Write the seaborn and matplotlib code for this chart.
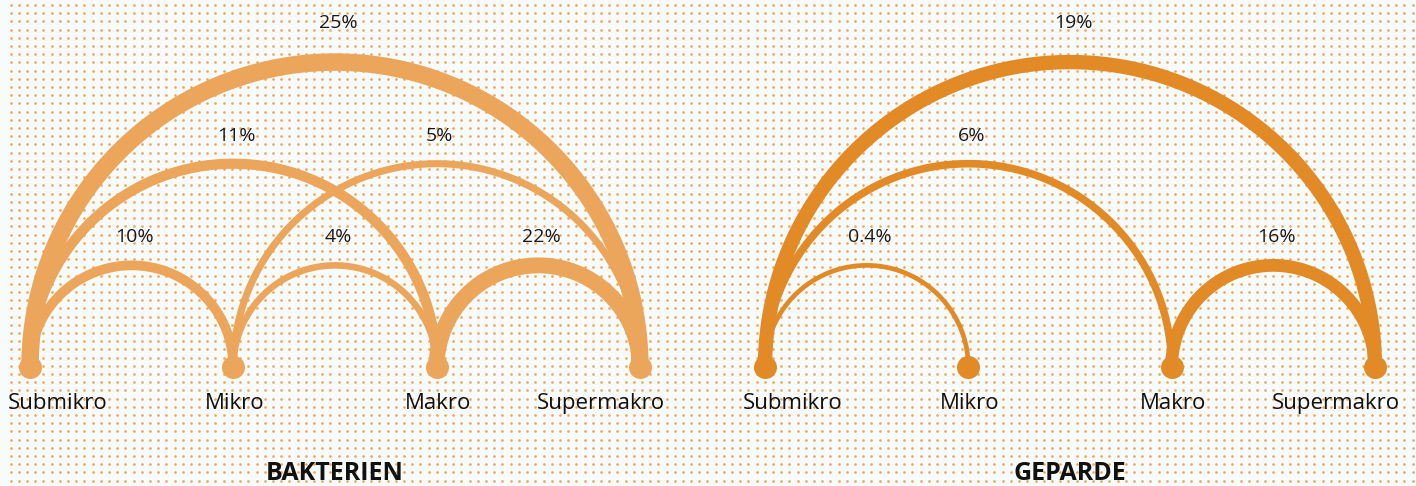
import numpy as np
import pandas as pd
import matplotlib
matplotlib.use('Agg')
import matplotlib.pyplot as plt
import seaborn as sns

# data
nodes = ["Submikro", "Mikro", "Makro", "Supermakro"]

bak_from = [0, 0, 1, 0, 1, 2]
bak_to = [3, 2, 3, 1, 2, 3]
bak_vals = [25, 11, 5, 10, 4, 22]
bak_labels = ["25%", "11%", "5%", "10%", "4%", "22%"]

gep_from = [0, 0, 0, 2]
gep_to = [3, 2, 1, 3]
gep_vals = [19, 6, 0.4, 16]
gep_labels = ["19%", "6%", "0.4%", "16%"]

titles = ["BAKTERIEN", "GEPARDE"]
colors = ["#ECA65B", "#E28A25"]

sns.set_theme(style="white")
plt.rcParams['font.family'] = ['Open Sans', 'DejaVu Sans']

W, H, DPI = 1416, 486, 100
fig = plt.figure(figsize=(W / DPI, H / DPI), dpi=DPI)
fig.patch.set_facecolor("#F8FBFC")

# dotted background
bg = fig.add_axes([0, 0, 1, 1])
bg.set_xlim(0, W)
bg.set_ylim(H, 0)
bg.axis("off")
gx, gy = np.meshgrid(np.arange(10.5, W, 8.2), np.arange(5, H, 8.2))
bg.scatter(gx.ravel(), gy.ravel(), s=3.6, marker="o", color="#EFA552",
           linewidths=0)

px = 72 / DPI  # points per pixel


def draw_panel(rect, xlim, src, dst, vals, labels, title, color):
    ax = fig.add_axes(rect)
    ax.set_xlim(*xlim)
    ax.set_ylim(-0.585, 1.805)
    ax.set_aspect("equal", adjustable="box")
    ax.axis("off")
    ax.patch.set_alpha(0)
    for i, j, v, lab in zip(src, dst, vals, labels):
        c = (i + j) / 2
        r = (j - i) / 2
        t = np.linspace(0, np.pi, 200)
        lw = (4.5 + 0.52 * v) * px
        ax.plot(c + r * np.cos(t), r * np.sin(t), color=color, lw=lw,
                solid_capstyle="butt", zorder=2)
        off = 28 + 22 * max(r - 1, 0)
        ax.annotate(lab, (c, r), xytext=(3 * px, off * px), textcoords="offset points",
                    ha="center", va="center", fontsize=14, color="#1a1a1a")
    df = pd.DataFrame({"x": range(len(nodes)), "y": 0.0})
    sns.scatterplot(data=df, x="x", y="y", s=(23 * px) ** 2, color=color,
                    linewidth=0, ax=ax, zorder=3)
    for k, name in enumerate(nodes):
        if k == 0:
            ha, dx = "left", -22
        elif k == len(nodes) - 1:
            ha, dx = "right", 25
        else:
            ha, dx = "center", 1
        ax.annotate(name, (k, 0), xytext=(dx * px, -36 * px), textcoords="offset points",
                    ha=ha, va="center", fontsize=16, color="#111111")
    ax.annotate(title, ((len(nodes) - 1) / 2, 0), xytext=(0, -106 * px),
                textcoords="offset points", ha="center", va="center",
                fontsize=18, fontweight="bold", color="#111111")
    ax.set_xlabel("")
    ax.set_ylabel("")


# left panel: node spacing 203.3 px, first node at 30 px
draw_panel([0, 0, 0.5, 1], (-30 / 203.3, 678 / 203.3), bak_from, bak_to, bak_vals,
           bak_labels, titles[0], colors[0])
# right panel: first node at 765 px
draw_panel([0.5, 0, 0.5, 1], (-57 / 203.3, 651 / 203.3), gep_from, gep_to, gep_vals,
           gep_labels, titles[1], colors[1])

fig.savefig("out.png", dpi=DPI, facecolor=fig.get_facecolor())
